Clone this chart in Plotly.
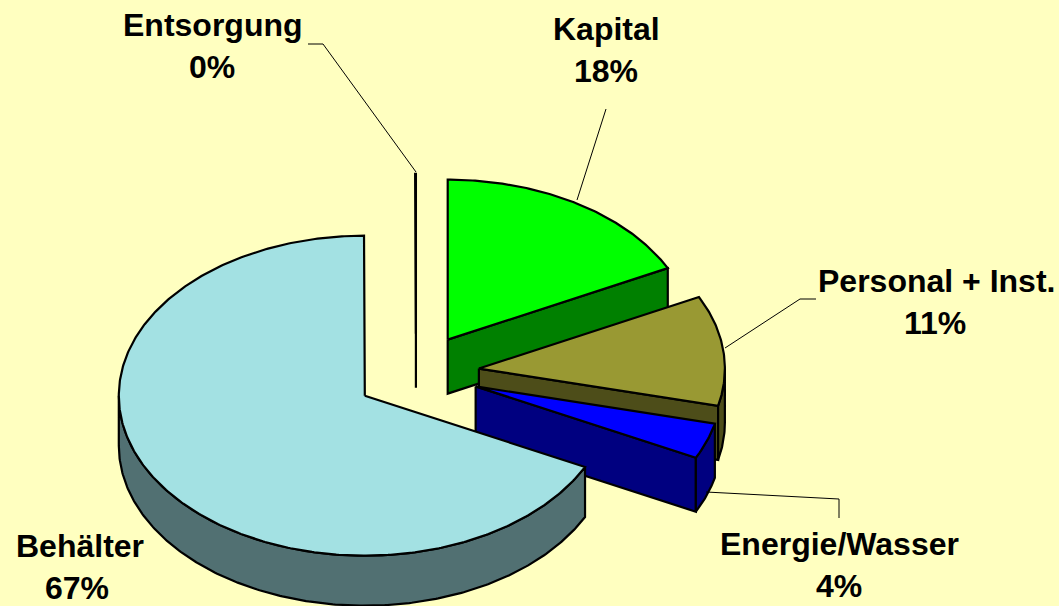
import math
import numpy as np
import plotly.graph_objects as go

# ---- data (percent shares, clockwise from 12 o'clock) ----
categories = ["Kapital", "Personal + Inst.", "Energie/Wasser", "Behälter", "Entsorgung"]
values = [17.6, 11.1, 3.6, 67.49, 0.05]

# ---- styles ----
top_colors = ["#00FF00", "#999933", "#0000FF", "#A3E1E3", "#000000"]
side_colors = ["#008000", "#4D4D19", "#000080", "#517072", "#000000"]
BG = "#FFFFC0"

# ---- pie geometry ----
CX, CY = 416.0, 373.0
RX, RY = 246.0, 160.0
EXPLODE = 0.245
W, H = 1059, 606
slice_nudge = [(0, 0), (3, 0), (3, 0), (0, 2), (0, 0)]
slice_depth = [54, 54, 54, 50, 54]


def pt(c, a, dz=0.0):
    return c[0] + RX * math.sin(a), c[1] - RY * math.cos(a) + dz


def arc(c, a0, a1, dz=0.0):
    n = max(2, int(abs(a1 - a0) / 0.01))
    t = np.linspace(a0, a1, n)
    return list(c[0] + RX * np.sin(t)), list(c[1] - RY * np.cos(t) + dz)


def poly(fig, xs, ys, color, lw=2.2):
    fig.add_trace(go.Scatter(
        x=xs + xs[:1], y=ys + ys[:1], mode="lines", fill="toself", fillcolor=color,
        line=dict(color="#000000", width=lw), hoverinfo="skip", showlegend=False,
    ))


fig = go.Figure()
total = sum(values)
starts = np.cumsum([0] + values[:-1]) / total * 2 * math.pi
ends = np.cumsum(values) / total * 2 * math.pi

for name, s, e, top, side, nudge, depth in zip(categories, starts, ends, top_colors, side_colors, slice_nudge, slice_depth):
    mid = (s + e) / 2
    c = (CX + EXPLODE * RX * math.sin(mid) + nudge[0], CY - EXPLODE * RY * math.cos(mid) + nudge[1])
    # cut face at the end angle, visible on the right half
    if e < math.pi or e >= 2 * math.pi - 1e-6:
        p = pt(c, e)
        poly(fig, [c[0], p[0], p[0], c[0]], [c[1], p[1], p[1] + depth, c[1] + depth], side)
    # rim, visible on the front half of the ellipse
    r0, r1 = max(s, math.pi / 2), min(e, 3 * math.pi / 2)
    if r1 > r0:
        x0, y0 = arc(c, r0, r1)
        x1, y1 = arc(c, r1, r0, depth)
        poly(fig, x0 + x1, y0 + y1, side)
    # top face
    xa, ya = arc(c, s, e)
    poly(fig, [c[0]] + xa, [c[1]] + ya, top)

# ---- labels: (name x, name y, percent x, percent y) ----
label_pos = {
    "Kapital": (606, 29, 606, 71),
    "Personal + Inst.": (936, 281, 935, 323),
    "Energie/Wasser": (839, 544, 839, 586),
    "Behälter": (80, 546, 77, 588),
    "Entsorgung": (213, 25, 212, 67),
}
font = dict(family="Liberation Sans, Arial, sans-serif", size=32, color="#000000")
for name, v in zip(categories, values):
    nx, ny, px, py = label_pos[name]
    fig.add_annotation(x=nx, y=ny, xref="x", yref="y", showarrow=False, text=f"<b>{name}</b>", font=font)
    fig.add_annotation(x=px, y=py, xref="x", yref="y", showarrow=False, text=f"<b>{round(v)}%</b>", font=font)

# ---- leader lines ----
leaders = [
    [(308, 44), (323, 44), (416, 172)],
    [(606, 109), (577, 200)],
    [(816, 299), (800, 299), (725, 348)],
    [(706, 492), (839, 499), (839, 518)],
]
for line in leaders:
    fig.add_trace(go.Scatter(
        x=[p[0] for p in line], y=[p[1] for p in line], mode="lines",
        line=dict(color="#000000", width=1), hoverinfo="skip", showlegend=False,
    ))

fig.update_layout(
    width=W, height=H, margin=dict(l=0, r=0, t=0, b=0),
    paper_bgcolor=BG, plot_bgcolor=BG, showlegend=False,
    xaxis=dict(range=[0, W], visible=False, fixedrange=True),
    yaxis=dict(range=[H, 0], visible=False, fixedrange=True),
)
fig.write_html(
    "out.html",
    config={"displayModeBar": False},
    post_script="document.body.style.margin='0';document.body.style.overflow='hidden';",
)
